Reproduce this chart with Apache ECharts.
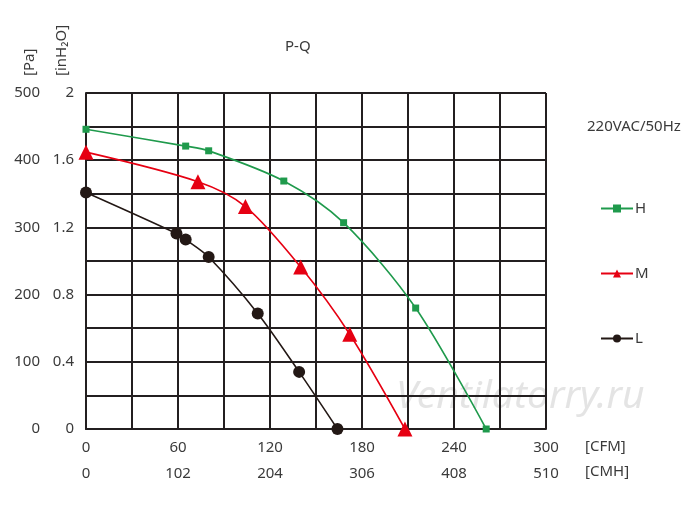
<!DOCTYPE html>
<html lang="en">
<head>
    <meta charset="UTF-8">
    <title>P-Q</title>
    <script src="https://cdn.jsdelivr.net/npm/echarts@6/dist/echarts.min.js"></script>
    <style>
        html, body {
            width: 100%;
            height: 100%;
            margin: 0;
            padding: 0;
            background: #fff;
        }
        #chart {
            width: 700px;
            height: 508px;
        }
    </style>
</head>
<body>
<div id="chart"></div>
<script>
    // Curve points: [airflow CFM, pressure Pa]
    var seriesNames = ['H', 'M', 'L'];
    var highData = [[0, 446], [65, 421], [80, 414], [129, 369], [168, 307], [215, 180], [261, 0]];
    var midData = [[0, 412], [73, 368], [104, 331], [140, 241], [172, 141], [208, 0]];
    var lowData = [[0, 352], [59, 291], [65, 282], [80, 256], [112, 172], [139, 85], [164, 0]];

    var gridColor = '#231f20';
    var textColor = '#3a3a3a';
    var font = '"Noto Sans", sans-serif';

    var chart = echarts.init(document.getElementById('chart'));

    // shared label style
    var lbl = { color: textColor, fontSize: 15, fontFamily: font };

    var option = {
        backgroundColor: '#fff',
        animation: false,
        grid: { left: 86, top: 93, width: 460, height: 336 },
        graphic: [
            { type: 'text', left: 285, top: 39, style: { text: 'P-Q', fill: textColor, font: '15px ' + font } },
            { type: 'text', x: 22, y: 76, rotation: Math.PI / 2,
              style: { text: '[Pa]', fill: textColor, font: '15px ' + font } },
            { type: 'text', x: 54, y: 76, rotation: Math.PI / 2,
              style: { text: '[inH₂O]', fill: textColor, font: '15px ' + font } },
            { type: 'text', left: 585, top: 439, style: { text: '[CFM]', fill: textColor, font: '15px ' + font } },
            { type: 'text', left: 585, top: 464, style: { text: '[CMH]', fill: textColor, font: '15px ' + font } },
            { type: 'text', left: 587, top: 119, style: { text: '220VAC/50Hz', fill: textColor, font: '15px ' + font } },
            // watermark
            { type: 'text', left: 396, top: 377, z: 0,
              style: { text: 'Ventilatorry.ru', fill: 'rgba(205,205,205,0.55)', font: 'italic 39px ' + font } }
        ],
        legend: {
            orient: 'vertical',
            left: 595,
            top: 196,
            itemGap: 50,
            itemWidth: 32,
            itemHeight: 10,
            data: seriesNames,
            textStyle: { color: textColor, fontSize: 15, fontFamily: font, padding: [0, 0, 0, -3] }
        },
        xAxis: [
            {
                type: 'value', min: 0, max: 300, interval: 30,
                axisLine: { show: true, lineStyle: { color: gridColor, width: 2 } },
                axisTick: { show: false },
                splitLine: { show: true, lineStyle: { color: gridColor, width: 2 } },
                axisLabel: Object.assign({
                    margin: 11,
                    formatter: function (v) { return v % 60 === 0 ? String(v) : ''; }
                }, lbl)
            },
            {
                type: 'value', position: 'bottom', offset: 25, min: 0, max: 510, interval: 51,
                axisLine: { show: false },
                axisTick: { show: false },
                splitLine: { show: false },
                axisLabel: Object.assign({
                    margin: 12,
                    formatter: function (v) { return Math.round(v) % 102 === 0 ? String(Math.round(v)) : ''; }
                }, lbl)
            }
        ],
        yAxis: [
            {
                type: 'value', position: 'left', offset: 34, min: 0, max: 500, interval: 50,
                axisLine: { show: false },
                axisTick: { show: false },
                splitLine: { show: true, lineStyle: { color: gridColor, width: 2 } },
                axisLabel: Object.assign({
                    margin: 12,
                    formatter: function (v) { return v % 100 === 0 ? String(v) : ''; }
                }, lbl)
            },
            {
                type: 'value', position: 'left', offset: 0, min: 0, max: 2, interval: 0.2,
                axisLine: { show: true, lineStyle: { color: gridColor, width: 2 } },
                axisTick: { show: false },
                splitLine: { show: false },
                axisLabel: Object.assign({
                    margin: 12,
                    formatter: function (v) {
                        var r = Math.round(v * 10);
                        return r % 4 === 0 ? String(r / 10) : '';
                    }
                }, lbl)
            }
        ],
        series: [
            {
                name: 'H', type: 'line', data: highData, smooth: 0.3,
                symbol: 'rect', symbolSize: 7,
                lineStyle: { color: '#1f9a4c', width: 1.6 },
                itemStyle: { color: '#1f9a4c' }, z: 5
            },
            {
                name: 'M', type: 'line', data: midData, smooth: 0.3,
                symbol: 'triangle', symbolSize: 15,
                lineStyle: { color: '#e60012', width: 1.6 },
                itemStyle: { color: '#e60012' }, z: 5
            },
            {
                name: 'L', type: 'line', data: lowData, smooth: 0.3,
                symbol: 'circle', symbolSize: 12,
                lineStyle: { color: '#231815', width: 1.6 },
                itemStyle: { color: '#231815' }, z: 5
            }
        ]
    };
    chart.setOption(option);
</script>
</body>
</html>
